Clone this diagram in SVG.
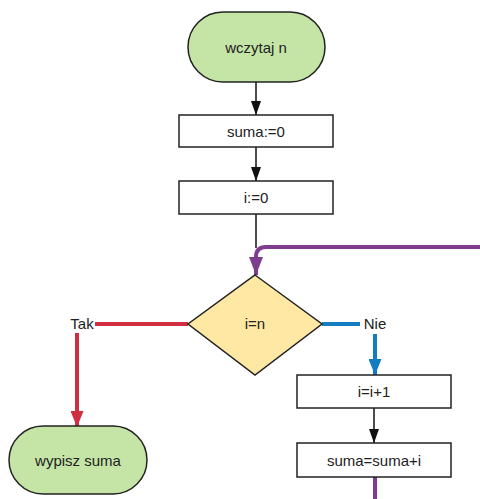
<svg xmlns="http://www.w3.org/2000/svg" width="480" height="499" viewBox="0 0 480 499">
<style>
text{font-family:"Liberation Sans",Arial,sans-serif;font-size:15px;fill:#222;text-anchor:middle;dominant-baseline:central}
.term{fill:#c5e5a6;stroke:#222;stroke-width:1.5}
.box{fill:#fff;stroke:#222;stroke-width:1.5}
.dec{fill:#ffe8a4;stroke:#222;stroke-width:1.5}
.c{fill:none}
</style>
<defs>
<marker id="ab" markerWidth="14" markerHeight="10" viewBox="0 0 14 10" refX="14" refY="5" orient="auto" markerUnits="userSpaceOnUse"><path d="M0,0 L14,5 L0,10 Z" fill="#111"/></marker>
<marker id="ar" markerWidth="16" markerHeight="13" viewBox="0 0 16 13" refX="16" refY="6.5" orient="auto" markerUnits="userSpaceOnUse"><path d="M0,0 L16,6.5 L0,13 Z" fill="#d12e42"/></marker>
<marker id="abl" markerWidth="16" markerHeight="13" viewBox="0 0 16 13" refX="16" refY="6.5" orient="auto" markerUnits="userSpaceOnUse"><path d="M0,0 L16,6.5 L0,13 Z" fill="#127ec0"/></marker>
<marker id="ap" markerWidth="18" markerHeight="14" viewBox="0 0 18 14" refX="18" refY="7" orient="auto" markerUnits="userSpaceOnUse"><path d="M0,0 L18,7 L0,14 Z" fill="#7e3d8e"/></marker>
</defs>
<g id="connectors">
<path class="c" d="M256,82 V115" stroke="#111" stroke-width="1.5" marker-end="url(#ab)"/>
<path class="c" d="M256,147 V181" stroke="#111" stroke-width="1.5" marker-end="url(#ab)"/>
<path class="c" d="M256,214 V248" stroke="#111" stroke-width="1.5"/>
<path class="c" d="M480,247 H266 Q256,247 256,257 V275" stroke="#7e3d8e" stroke-width="4" marker-end="url(#ap)"/>
<path class="c" d="M188,324 H95" stroke="#d12e42" stroke-width="4"/>
<path class="c" d="M77,333 V427" stroke="#d12e42" stroke-width="4" marker-end="url(#ar)"/>
<path class="c" d="M322,324 H360" stroke="#127ec0" stroke-width="4"/>
<path class="c" d="M375,334 V375" stroke="#127ec0" stroke-width="4" marker-end="url(#abl)"/>
<path class="c" d="M374,408 V443" stroke="#111" stroke-width="1.5" marker-end="url(#ab)"/>
<path class="c" d="M375,477 V499" stroke="#7e3d8e" stroke-width="4"/>
<text x="82" y="323">Tak</text>
<text x="375" y="323">Nie</text>
</g>
<g id="start"><rect class="term" x="188" y="12" width="137" height="70" rx="35"/><text x="256" y="47">wczytaj n</text></g>
<g id="suma0"><rect class="box" x="179" y="115" width="154" height="32"/><text x="256" y="131">suma:=0</text></g>
<g id="i0"><rect class="box" x="179" y="181" width="154" height="33"/><text x="256" y="197">i:=0</text></g>
<g id="cond"><polygon class="dec" points="255,275 322,324 255,375 188,324"/><text x="255" y="323">i=n</text></g>
<g id="inc"><rect class="box" x="297" y="375" width="154" height="33"/><text x="374" y="391">i=i+1</text></g>
<g id="add"><rect class="box" x="297" y="443" width="154" height="34"/><text x="374" y="460">suma=suma+i</text></g>
<g id="end"><rect class="term" x="9" y="426" width="138" height="68" rx="34"/><text x="78" y="460">wypisz suma</text></g>
</svg>
